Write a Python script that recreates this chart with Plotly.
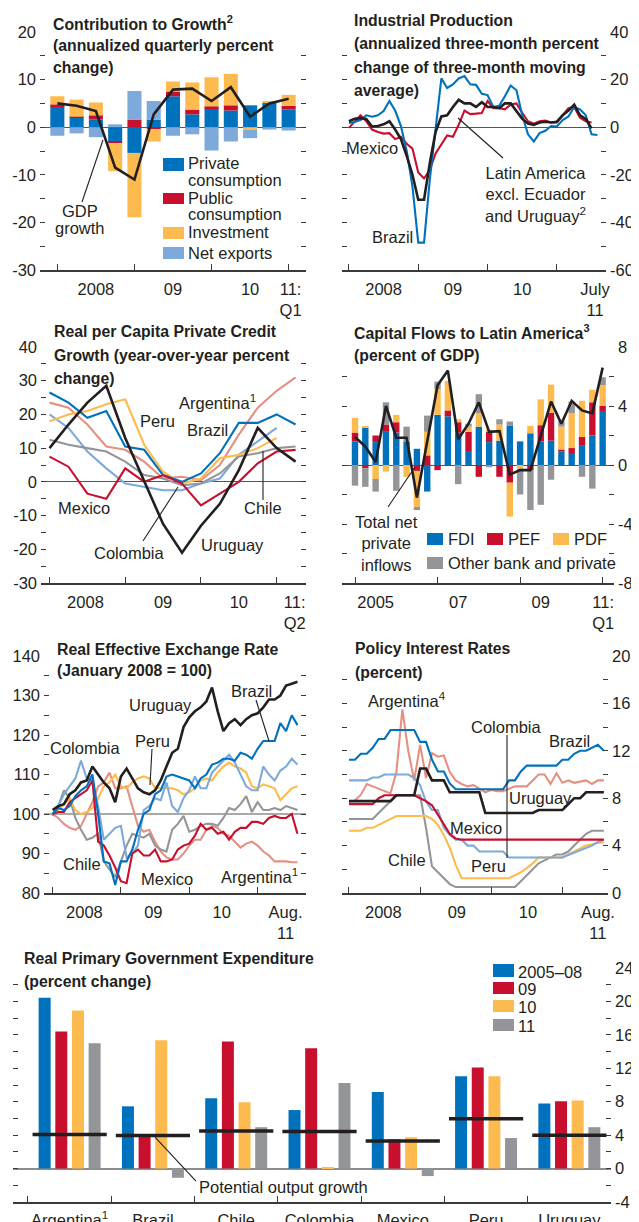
import plotly.graph_objects as go

W, H = 639, 1222
OX, OY = 8, 8   # page body margin offset
TXT = "#231F20"
AX = "#3A3A3A"
FONT = "Liberation Sans, Arial, sans-serif"
TFONT = "Liberation Sans, Arial, sans-serif"
FS = 16.5
TS = 15.8
BLUE, RED, YEL, LBLUE, GRAY, SALMON, BLACK = "#0071BC", "#C8102E", "#FDBB4F", "#7DA9DB", "#939598", "#E59080", "#231F20"

# ---------------- Panel 1: Contribution to growth (2008Q1-2011Q1) ----------------
cg_quarters = ["2008Q1", "2008Q2", "2008Q3", "2008Q4", "2009Q1", "2009Q2", "2009Q3", "2009Q4",
               "2010Q1", "2010Q2", "2010Q3", "2010Q4", "2011Q1"]
cg_private = [4.4, 2.0, 1.6, -3.0, -5.4, 1.6, 6.5, 2.7, 4.0, 3.5, 4.6, 5.1, 3.7]
cg_public = [0.4, 0.2, 0.9, -0.35, 1.6, -0.4, 1.0, 1.0, 0.4, 1.1, 0.0, 0.0, 0.8]
cg_investment = [1.7, 3.6, 2.7, -5.9, -13.5, -2.6, 2.1, 5.7, 6.1, 6.6, -0.5, 0.3, 2.3]
cg_netexports = [-1.8, -1.3, -2.1, 0.6, 6.0, 3.9, -1.8, -1.5, -4.9, -3.0, -1.8, -0.5, -0.7]
cg_gdp = [5.0, 4.5, 3.4, -8.5, -11.0, 2.7, 7.9, 8.1, 5.5, 8.4, 2.2, 5.0, 6.0]

# ---------------- Panel 2: Industrial production (monthly from Jan 2008) ----------------
ip_brazil = [1.8, 2.2, 3.0, 5.0, 4.4, 5.0, 6.8, 11.0, 7.0, 0.5, -10, -25, -48.5, -48.5, -22, 0,
             20.5, 16.5, 18, 20.5, 21.5, 18, 17.8, 14, 13.5, 8.5, 9, 13, 17.5, 15.5, 5, -3, -6,
             -2.5, -1.5, 0.5, 0.3, 3, 4.5, 8.5, 7.5, 5, -3, -3.3]
ip_mexico = [-0.3, 2.5, 5.0, 2.5, -1, -2, -2.7, -2.5, -5, -4, -7, -9, -19, -21.5, -18, -11, -7,
             -3.5, -4, 1, 7, 5.5, 5.7, 6, 11, 8, 8, 7.5, 9.5, 10, 6, 2.5, 1.5, 2.5, 2.8, 2, 2, 5,
             8, 8.5, 4, 2.5, 2]
ip_latam = [2.5, 3.5, 3.8, 3.5, 0.3, 0.5, 1.2, 2.5, -1, -5, -12, -20, -30.5, -30.5, -15, -2,
            4.5, 5, 8.5, 11.5, 10, 10, 8.5, 10.5, 8.5, 8.5, 8, 10, 10, 7, 3.5, 1.5, 1, 2, 2.3,
            2, 2.3, 5, 7, 9.5, 5, 3.5, -0.5]

# ---------------- Panel 3: Private credit growth (quarterly 2008Q1-2011Q2) ----------------
cr_brazil = [26.5, 23.5, 19, 21, 10.5, 9.5, 2, 0, 2.5, 8.5, 17.5, 17.5, 20, 17]
cr_argentina = [23.5, 22, 17, 10.5, 9.5, 6, 1, 1.5, 0.5, 5, 14, 22, 27, 31]
cr_peru = [18, 20, 21, 23, 24.5, 11, 3, -0.5, 1, 7, 8, 10, 13]
cr_colombia = [20, 16, 9, 4, -0.5, -1.5, -2.5, -2.5, -0.5, 1, 8, 12, 16]
cr_chile = [12.5, 11, 10, 9, 6, 2, 1, -1, -0.5, 2.5, 7.5, 8.5, 10, 10.5]
cr_mexico = [7.5, 4.5, -3.5, -5, 4, 0, 2, -0.5, -7, -3.5, 0, 5.5, 9, 9.5]
cr_uruguay = [10, 17, 23.5, 28.5, 13, 0.5, -12.5, -21, -13, -6.5, 3.5, 16, 10, 6]

# ---------------- Panel 4: Capital flows (quarterly 2005Q1-2011Q1) ----------------
cf_fdi = [1.6, 2.55, 1.55, 2.3, 2.2, 1.6, 1.1, -1.8, 3.4, 3.3, 2.2, 0.95, 2.6, 1.55, 1.65, 2.65,
          1.6, 2.15, 1.6, 1.65, 0.9, 0.75, 1.3, 2.0, 3.6]
cf_pef = [0.6, -0.23, 0.45, 0.45, 0.7, 0.0, -0.4, 0.65, -0.35, 0.4, 0.7, 1.3, -0.8, 0.75, -0.8,
          -1.2, 0.0, -0.35, 1.1, 1.9, 0.15, 0.4, 0.6, 2.25, 0.4]
cf_pdf = [1.0, 0.1, -0.95, -0.45, 0.5, -0.8, -2.45, 1.6, 1.75, 2.0, 0.2, 0.35, 0.9, 0.1, 1.1,
          -2.3, -0.25, 0.5, 1.75, 1.9, 1.55, 2.35, 2.45, 0.85, 1.4]
cf_other = [-1.4, -1.25, -0.85, 1.5, -1.75, 1.0, -0.2, 1.1, 0.5, 0.0, -1.3, 0.2, 1.3, -0.15, 0.35,
            0.3, -1.75, -2.7, -2.7, -1.0, 0.4, 0.8, -0.8, -1.6, 0.55]
cf_total = [1.9, 1.25, 0.2, 4.0, 1.85, 1.85, -2.2, 1.6, 5.4, 6.4, 1.75, 2.8, 4.25, 2.25, 2.3,
            -0.65, -0.35, -0.35, 2.0, 4.3, 2.8, 4.35, 3.7, 3.5, 6.6]

# ---------------- Panel 5: Real effective exchange rate (monthly Jan 2008-Aug 2011) ----------------
reer_uruguay = [101, 102, 102.5, 105, 106, 108, 108.5, 112, 110, 108, 106.5, 103, 109.5, 111.5, 109,
                106.5, 105.5, 105, 106, 108.5, 112, 115.5, 116.5, 122, 124.5, 126, 127, 128.5, 132,
                126, 121, 123, 124, 122.5, 124, 125, 125.5, 127, 129, 129, 130, 132.5, 133, 133.5]
reer_brazil = [100, 101.5, 101, 102, 104.5, 106, 107, 110, 100, 88, 87.5, 82, 88, 88, 91, 96, 100,
               101, 105, 106, 109.5, 110, 109.5, 109, 108.5, 106.5, 109, 110, 112.5, 113, 114, 114,
               113.5, 115.5, 115, 114, 116.5, 118.5, 118.5, 118.5, 123, 121, 125, 122.5]
reer_peru = [100, 101, 102.5, 104, 101, 100, 100.5, 101.5, 104, 107, 108, 110, 107, 106.5, 108, 109,
             109.5, 109, 106.5, 106.5, 106.5, 106.5, 106, 105, 105.5, 106.5, 108.5, 109, 108.5, 110.5,
             112, 113, 112, 111.5, 110.5, 107, 106.5, 107.5, 107, 106.5, 103.5, 105, 106.5, 107]
reer_colombia = [100, 102, 105, 107, 109, 113.5, 109, 108.5, 102, 93.5, 95, 96.5, 97, 89, 90, 92, 101,
                 102, 104, 103.5, 108, 102, 100.5, 104, 106, 109.5, 106.5, 106.5, 110.5, 112, 113.5,
                 115, 113, 110, 107, 106, 106, 112, 110, 108.5, 111, 112, 114, 112.5]
reer_chile = [99.5, 102, 106, 104, 99, 96, 93.5, 94, 95, 88, 86, 84, 88, 92, 95, 94.5, 94, 95, 92, 91,
              90.5, 96, 97.5, 99.5, 95.5, 96, 97, 97.5, 97.5, 97, 99, 101.5, 101, 102.5, 104.5, 100.5,
              103, 101, 101, 101.5, 101, 102, 101.5, 101]
reer_mexico = [100, 100.5, 100.5, 103, 104, 105, 106, 108.5, 93, 92, 89.5, 86.5, 83, 82.5, 90, 91,
               89.5, 89.5, 91, 88, 88, 88.5, 91, 92, 92.5, 94.5, 97.5, 96, 96.5, 95, 95.5, 93.5, 95.5,
               96.5, 96.5, 98, 98, 97.5, 99, 99.5, 99, 99, 100, 95]
reer_argentina = [100, 99, 97.5, 96.5, 96, 97, 100, 103, 107, 108, 110.5, 106.5, 106.5, 107, 102, 97,
                  95.5, 96, 93, 90.5, 89, 88.5, 88.5, 90, 92, 93.5, 93.5, 96, 97, 96.5, 95, 94.5, 93,
                  91.5, 92.5, 93, 92, 90.5, 89.5, 88, 88, 88, 87.8, 87.8]

# ---------------- Panel 6: Policy interest rates (monthly Jan 2008-Aug 2011) ----------------
pr_brazil = [11.25, 11.25, 11.75, 11.75, 12.25, 13, 13, 13.75, 13.75, 13.75, 13.75, 13.75, 12.75,
             12.75, 11.25, 10.25, 10.25, 9.25, 8.75, 8.75, 8.75, 8.75, 8.75, 8.75, 8.75, 8.75, 8.75,
             9.5, 9.5, 10.25, 10.75, 10.75, 10.75, 10.75, 10.75, 10.75, 11.25, 11.25, 11.75, 12, 12,
             12.25, 12.5, 12]
pr_argentina = [7.7, 7.8, 8.3, 9.2, 9.0, 8.8, 8.6, 8.4, 10.2, 15.5, 12.0, 9.5, 12.5, 9.7, 11.8, 11.5,
                11.6, 10.2, 9.5, 9.2, 9.0, 9.1, 8.8, 8.5, 8.7, 8.6, 8.6, 8.8, 9.0, 9.0, 9.0, 9.5, 10.0,
                10.0, 9.2, 10.1, 9.3, 9.5, 9.3, 9.4, 9.5, 9.2, 9.5, 9.5]
pr_uruguay = [7.75, 7.75, 7.75, 7.75, 7.75, 7.75, 7.75, 7.75, 8.25, 8.25, 8.25, 8.25, 10.5, 10.5,
              9.5, 9.5, 9.5, 8.5, 8.5, 8.5, 8.5, 8.5, 8.5, 6.75, 6.75, 6.75, 6.75, 6.75, 6.75, 6.75,
              6.75, 6.75, 7.0, 7.0, 7.0, 7.0, 7.0, 7.5, 8.0, 8.0, 8.5, 8.5, 8.5, 8.5]
pr_mexico = [7.5, 7.5, 7.5, 7.5, 7.5, 8.0, 8.25, 8.25, 8.25, 8.25, 8.25, 8.25, 8.0, 7.75, 7.4, 6.6,
             5.75, 5.0, 4.6, 4.5, 4.5, 4.5, 4.5, 4.5, 4.5, 4.5, 4.5, 4.5, 4.5, 4.5, 4.5, 4.5, 4.5,
             4.5, 4.5, 4.5, 4.5, 4.5, 4.5, 4.5, 4.5, 4.5, 4.5, 4.5]
pr_colombia = [9.5, 9.5, 9.5, 9.5, 9.75, 9.75, 10, 10, 10, 10, 10, 9.7, 9.1, 7.7, 7.0, 7.0, 5.5, 4.9,
               4.5, 4.5, 4.0, 4.0, 3.5, 3.5, 3.5, 3.5, 3.5, 3.0, 3.0, 3.0, 3.0, 3.0, 3.0, 3.0, 3.0,
               3.0, 3.0, 3.2, 3.4, 3.6, 3.8, 4.0, 4.3, 4.5]
pr_chile = [6.25, 6.25, 6.25, 6.25, 6.25, 6.75, 7.25, 7.75, 8.25, 8.25, 8.25, 8.25, 8.25, 5.5, 2.25,
            1.75, 1.25, 0.75, 0.5, 0.5, 0.5, 0.5, 0.5, 0.5, 0.5, 0.5, 0.5, 0.5, 0.5, 1.0, 1.5, 2.0,
            2.5, 2.75, 3.0, 3.25, 3.25, 3.5, 4.0, 4.5, 5.0, 5.25, 5.25, 5.25]
pr_peru = [5.25, 5.25, 5.25, 5.5, 5.5, 5.75, 6.0, 6.25, 6.5, 6.5, 6.5, 6.5, 6.5, 6.5, 6.25, 5.75, 4.9,
           3.8, 2.4, 1.25, 1.25, 1.25, 1.25, 1.25, 1.25, 1.25, 1.25, 1.25, 1.5, 1.75, 2.1, 2.5, 3.0,
           3.0, 3.0, 3.0, 3.0, 3.25, 3.5, 3.75, 4.0, 4.1, 4.25, 4.25]

# ---------------- Panel 7: Real primary government expenditure ----------------
ge_countries = ["Argentina", "Brazil", "Chile", "Colombia", "Mexico", "Peru", "Uruguay"]
ge_labels = ["Argentina<sup>1</sup>", "Brazil", "Chile", "Colombia", "Mexico", "Peru", "Uruguay"]
ge_2005_08 = [20.45, 7.45, 8.4, 7.0, 9.15, 11.05, 7.8]
ge_2009 = [16.4, 3.9, 15.2, 14.4, 3.5, 12.1, 8.05]
ge_2010 = [18.9, 15.35, 7.95, 0.1, 3.75, 11.05, 8.15]
ge_2011 = [15.0, -1.1, 4.95, 10.25, -0.9, 3.65, 4.95]
ge_potential = [4.07, 3.95, 4.5, 4.45, 3.3, 5.95, 4.0]

fig = go.Figure()


def PX(x):
    return (x - OX) / W


def PY(y):
    return 1 - (y - OY) / H


def xn(n):
    return "x" if n == 1 else f"x{n}"


def yn(n):
    return "y" if n == 1 else f"y{n}"


axes = {}


def set_axes(n, left, right, top, bottom, xr, marks, lab_pos, lab_txt, ylo, yhi, ystep, ylab, side, zl=True):
    key = "" if n == 1 else str(n)
    axes["xaxis" + key] = dict(
        domain=[PX(left), PX(right)], range=xr, anchor=yn(n), showgrid=False, zeroline=False,
        showline=True, linecolor=AX, linewidth=1.5, tickmode="array", tickvals=lab_pos,
        ticktext=lab_txt, ticks="", tickfont=dict(family=FONT, size=FS, color=TXT),
        ticklabelstandoff=3, tickangle=0, automargin=False,
        minor=dict(tickmode="array", tickvals=marks, ticks="inside", ticklen=6, tickwidth=1.2,
                   tickcolor=AX, showgrid=False),
        fixedrange=True)
    vals = list(range(ylo, yhi + 1, ystep))
    axes["yaxis" + key] = dict(
        domain=[PY(bottom), PY(top)], range=[ylo, yhi], anchor=xn(n), side=side,
        showgrid=False, zeroline=zl, zerolinecolor="#555555", zerolinewidth=1,
        tickmode="array", tickvals=vals,
        ticktext=[str(v) if v % ylab == 0 else "" for v in vals],
        ticks="inside", ticklen=5, tickwidth=1.2, tickcolor=AX, mirror="ticks", showline=False,
        tickfont=dict(family=FONT, size=FS, color=TXT), ticklabelstandoff=3, automargin=False,
        fixedrange=True)


# panel geometry (pixels, reference image coordinates)
set_axes(1, 40, 306, 32, 270, [-0.9, 12.9], [0, 4, 8, 12], [2, 6, 10, 12.1],
         ["2008", "09", "10", "11:<br>Q1"], -30, 20, 5, 10, "left")
set_axes(2, 342, 606, 32, 270, [-1.2, 44.5], [0, 12, 24, 36], [6, 18, 30, 42.6],
         ["2008", "09", "10", "July<br>11"], -60, 40, 10, 20, "right")
set_axes(3, 41, 306, 347, 583, [-0.45, 13.55], [0, 4, 8, 12], [1.9, 6, 10, 12.95],
         ["2008", "09", "10", "11:<br>Q2"], -30, 40, 5, 10, "left")
set_axes(4, 342, 614, 347, 583, [-1.26, 25.1], [0, 8, 16, 24], [2, 10, 18, 24.05],
         ["2005", "07", "09", "11:<br>Q1"], -8, 8, 2, 4, "right")
set_axes(5, 44, 306, 656, 893, [-1.5, 44.5], [0, 12, 24, 36], [5.6, 17.7, 29.7, 40.9],
         ["2008", "09", "10", "Aug.<br>11"], 80, 140, 5, 10, "left", zl=False)
set_axes(6, 342, 608, 656, 893, [-1.18, 43.7], [0, 12, 24, 36], [5.8, 18.2, 30.2, 42],
         ["2008", "09", "10", "Aug.<br>11"], 0, 20, 2, 4, "right", zl=False)
set_axes(7, 13, 611, 968, 1202, [-0.68, 6.5], [], [], [], -4, 24, 2, 4, "right")
# panel 7 is categorical
axes["xaxis7"].pop("minor", None)
axes["xaxis7"].update(type="category", tickmode="array", tickvals=ge_countries, ticktext=ge_labels,
                      tickson="boundaries", ticks="inside", ticklen=6, tickwidth=1.2, tickcolor=AX,
                      ticklabelstandoff=2, tickangle=0)
axes["yaxis7"].update(zerolinecolor="#8C8C8C", zerolinewidth=1.5)


def bar(n, x, y, color, width=None, og=None):
    fig.add_trace(go.Bar(x=x, y=y, xaxis=xn(n), yaxis=yn(n), marker=dict(color=color, line=dict(width=0)),
                         width=width, offsetgroup=og, hoverinfo="skip"))


def line(n, x, y, color, w=2.1):
    fig.add_trace(go.Scatter(x=x, y=y, xaxis=xn(n), yaxis=yn(n), mode="lines",
                             line=dict(color=color, width=w), hoverinfo="skip"))


# Panel 1
q1 = list(range(len(cg_quarters)))
bar(1, q1, cg_private, BLUE, 0.73)
bar(1, q1, cg_public, RED, 0.73)
bar(1, q1, cg_investment, YEL, 0.73)
bar(1, q1, cg_netexports, LBLUE, 0.73)
line(1, q1, cg_gdp, BLACK, 2.6)

# Panel 2
line(2, list(range(len(ip_mexico))), ip_mexico, RED)
line(2, list(range(len(ip_brazil))), ip_brazil, BLUE)
line(2, list(range(len(ip_latam))), ip_latam, BLACK, 2.6)

# Panel 3
for ser, col in [(cr_argentina, SALMON), (cr_colombia, LBLUE), (cr_chile, GRAY), (cr_peru, YEL),
                 (cr_brazil, BLUE), (cr_mexico, RED)]:
    line(3, list(range(len(ser))), ser, col)
line(3, list(range(len(cr_uruguay))), cr_uruguay, BLACK, 2.6)

# Panel 4
q4 = list(range(len(cf_fdi)))
bar(4, q4, cf_fdi, BLUE, 0.62)
bar(4, q4, cf_pef, RED, 0.62)
bar(4, q4, cf_pdf, YEL, 0.62)
bar(4, q4, cf_other, GRAY, 0.62)
line(4, q4, cf_total, BLACK, 2.6)

# Panel 5
for ser, col in [(reer_argentina, SALMON), (reer_chile, GRAY), (reer_peru, YEL), (reer_colombia, LBLUE),
                 (reer_mexico, RED), (reer_brazil, BLUE)]:
    line(5, list(range(len(ser))), ser, col)
line(5, list(range(len(reer_uruguay))), reer_uruguay, BLACK, 2.6)

# Panel 6
for ser, col in [(pr_argentina, SALMON), (pr_chile, GRAY), (pr_peru, YEL), (pr_colombia, LBLUE),
                 (pr_mexico, RED), (pr_brazil, BLUE)]:
    line(6, list(range(len(ser))), ser, col)
line(6, list(range(len(pr_uruguay))), pr_uruguay, BLACK, 2.6)

# Panel 7
for k, (ser, col) in enumerate([(ge_2005_08, BLUE), (ge_2009, RED), (ge_2010, YEL), (ge_2011, GRAY)]):
    bar(7, ge_countries, ser, col, og=str(k))
fig.add_trace(go.Scatter(x=ge_countries, y=ge_potential, xaxis="x7", yaxis="y7", mode="markers",
                         marker=dict(symbol="line-ew", size=53, line=dict(color=BLACK, width=3.5)),
                         hoverinfo="skip"))

# ---------------- annotations / shapes ----------------
ann = []
shapes = []


def text(t, x, y, anchor="left", size=FS, font=FONT, color=TXT):
    ann.append(dict(text=t, x=PX(x), y=PY(y), xref="paper", yref="paper", xanchor=anchor,
                    yanchor="middle", showarrow=False, align=anchor if anchor != "center" else "center",
                    font=dict(family=font, size=size, color=color)))


def title(lines, x, ys):
    for t, y in zip(lines, ys):
        text("<b>" + t + "</b>", x, y, size=TS, font=TFONT)


def seg(x0, y0, x1, y1, w=1.1):
    shapes.append(dict(type="line", xref="paper", yref="paper", x0=PX(x0), y0=PY(y0), x1=PX(x1),
                       y1=PY(y1), line=dict(color=BLACK, width=w)))


def swatch(x0, y0, x1, y1, color):
    shapes.append(dict(type="rect", xref="paper", yref="paper", x0=PX(x0), y0=PY(y0), x1=PX(x1),
                       y1=PY(y1), fillcolor=color, line=dict(width=0)))


# Panel 1 texts
title(["Contribution to Growth<sup>2</sup>", "(annualized quarterly percent", "change)"], 51, [23, 45, 67])
swatch(163, 158, 184, 171, BLUE)
swatch(163, 193, 184, 204, RED)
swatch(163, 227, 184, 239, YEL)
swatch(163, 247, 184, 259, LBLUE)
text("Private", 186, 163)
text("consumption", 186, 180)
text("Public", 186, 198)
text("consumption", 186, 214)
text("Investment", 186, 232)
text("Net exports", 186, 253)
text("GDP", 80, 211, "center")
text("growth", 80, 228, "center")
seg(82, 202, 103, 140)

# Panel 2 texts
title(["Industrial Production", "(annualized three-month percent", "change of three-month moving",
       "average)"], 352, [21, 44, 67, 90])
text("Mexico", 372, 148, "center")
text("Brazil", 392, 237, "center")
text("Latin America<br>excl. Ecuador<br>and Uruguay<sup>2</sup>", 535, 194, "center")
seg(503, 158, 458, 118)

# Panel 3 texts
title(["Real per Capita Private Credit", "Growth (year-over-year percent", "change)"], 52, [332, 355, 378])
text("Peru", 157, 421, "center")
text("Argentina<sup>1</sup>", 217, 402, "center")
text("Brazil", 207, 430, "center")
text("Mexico", 84, 508, "center")
text("Colombia", 129, 553, "center")
seg(143, 541, 178, 487)
text("Uruguay", 232, 545, "center")
text("Chile", 263, 508, "center")
seg(263, 500, 263, 451)

# Panel 4 texts
title(["Capital Flows to Latin America<sup>3</sup>", "(percent of GDP)"], 352, [332, 355])
text("Total net<br>private<br>inflows", 386, 543, "center")
seg(388, 507, 415, 467)
swatch(427, 533, 443, 545, BLUE)
text("FDI", 446, 539)
swatch(487, 533, 503, 545, RED)
text("PEF", 506, 539)
swatch(553, 533, 569, 545, YEL)
text("PDF", 572, 539)
swatch(427, 557, 443, 569, GRAY)
text("Other bank and private", 446, 563)

# Panel 5 texts
title(["Real Effective Exchange Rate", "(January 2008 = 100)"], 55, [649, 671])
shapes.append(dict(type="line", xref="x5 domain", yref="y5", x0=0, x1=1, y0=100, y1=100,
                   line=dict(color="#555555", width=1), layer="below"))
text("Uruguay", 160, 705, "center")
text("Brazil", 251, 691, "center")
seg(256, 700, 269, 741)
text("Peru", 152, 741, "center")
seg(152, 749, 150, 785)
text("Colombia", 85, 748, "center")
text("Chile", 82, 864, "center")
text("Mexico", 167, 879, "center")
text("Argentina<sup>1</sup>", 260, 876, "center")

# Panel 6 texts
title(["Policy Interest Rates", "(percent)"], 353, [648, 672])
text("Argentina<sup>4</sup>", 407, 700, "center")
text("Colombia", 507, 727, "center")
seg(507, 735, 507, 858)
text("Brazil", 569, 741, "center")
text("Uruguay", 540, 798, "center")
text("Mexico", 476, 828, "center")
text("Chile", 407, 860, "center")
text("Peru", 488, 866, "center")

# Panel 7 texts
title(["Real Primary Government Expenditure", "(percent change)"], 22, [958, 981])
for (y0, y1, col, lab) in [(964, 977, BLUE, "2005–08"), (982, 994, RED, "09"),
                           (1000, 1012, YEL, "10"), (1019, 1031, GRAY, "11")]:
    swatch(493, y0, 514, y1, col)
    text(lab, 516, (y0 + y1) / 2 + 1)
text("Potential output growth", 197, 1187)
seg(155, 1137, 196, 1181)

fig.update_layout(
    width=W, height=H, autosize=False, margin=dict(l=0, r=0, t=0, b=0, autoexpand=False),
    paper_bgcolor="white", plot_bgcolor="rgba(0,0,0,0)", showlegend=False,
    barmode="relative", bargap=0.2, bargroupgap=0.28,
    font=dict(family=FONT, size=FS, color=TXT),
    annotations=ann, shapes=shapes, **axes)

fig.write_html("out.html")
